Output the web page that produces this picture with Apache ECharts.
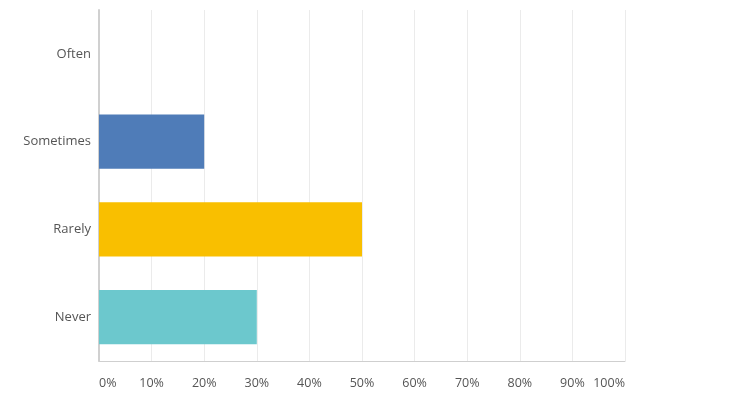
<!DOCTYPE html>
<html><head><meta charset="utf-8">
<script src="https://cdn.jsdelivr.net/npm/echarts@6/dist/echarts.min.js"></script>
<style>html,body{margin:0;padding:0;background:#fff}#c{width:741px;height:417px}</style>
</head><body><div id="c"></div>
<script>
const categories = ["Often", "Sometimes", "Rarely", "Never"];
const values = [0, 20, 50, 30];
const colors = ["#4f7cb8", "#4f7cb8", "#f9bf00", "#6cc8cd"];
const chart = echarts.init(document.getElementById('c'));
chart.setOption({
  animation: false,
  grid: {left: 99, right: 116, top: 10, bottom: 56, containLabel: false},
  xAxis: {
    type: 'value', min: 0, max: 100, interval: 10,
    axisLabel: {formatter: '{value}%', color: '#555', fontFamily: 'Open Sans', fontSize: 12.5, margin: 16,
      alignMinLabel: 'left', alignMaxLabel: 'right'},
    axisLine: {show: true, lineStyle: {color: '#cfcfcf', width: 1}},
    axisTick: {show: false},
    splitLine: {show: true, lineStyle: {color: '#ebebeb', width: 1}}
  },
  yAxis: {
    type: 'category', data: categories, inverse: true,
    axisLabel: {color: '#555', fontFamily: 'Open Sans', fontSize: 13, margin: 8, padding: [3, 0, 0, 0]},
    axisLine: {show: true, lineStyle: {color: '#d0d0d0', width: 2}},
    axisTick: {show: false}
  },
  series: [{
    type: 'bar', barWidth: '62%',
    data: values.map((v, i) => ({value: v, itemStyle: {color: colors[i]}}))
  }]
});
</script></body></html>
